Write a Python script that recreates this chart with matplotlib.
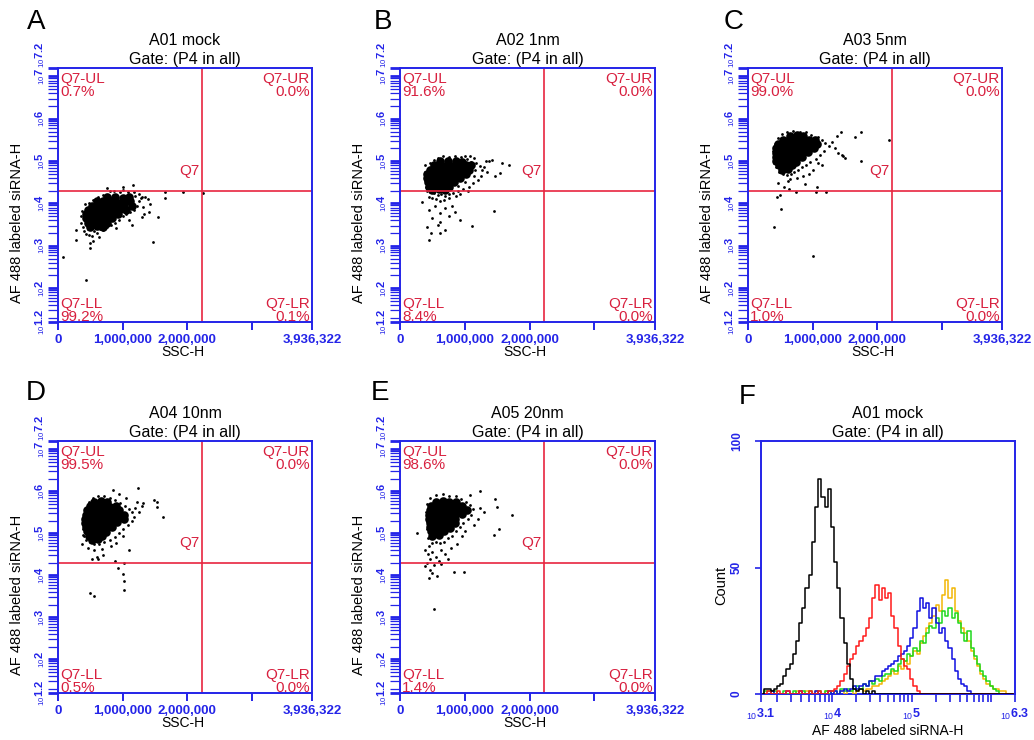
import numpy as np
import matplotlib
matplotlib.use('Agg')
import matplotlib.pyplot as plt
from matplotlib.ticker import LogLocator, NullFormatter

plt.rcParams['font.family'] = ['Liberation Sans', 'DejaVu Sans']
plt.rcParams['mathtext.fontset'] = 'custom'
plt.rcParams['mathtext.rm'] = 'Liberation Sans'
plt.rcParams['mathtext.it'] = 'Liberation Sans:italic'
plt.rcParams['mathtext.bf'] = 'Liberation Sans:bold'

# samples and quadrant statistics (Q7 gate)
panel_letters = ['A', 'B', 'C', 'D', 'E']
sample_names = ['A01 mock', 'A02 1nm', 'A03 5nm', 'A04 10nm', 'A05 20nm']
pct_ul = [0.7, 91.6, 99.0, 99.5, 98.6]
pct_ur = [0.0, 0.0, 0.0, 0.0, 0.0]
pct_ll = [99.2, 8.4, 1.0, 0.5, 1.4]
pct_lr = [0.1, 0.0, 0.0, 0.0, 0.0]

gate_ssc = 2230000
gate_af488 = 20000
ssc_max = 3936322

# events as (SSC-H / 1000, log10 AF 488); "dense" = bulk of the population
a01_dense = [
    (760, 4.15), (880, 4.16), (1000, 4.14), (1100, 4.15),
    (600, 4.05), (700, 4.06), (800, 4.05), (900, 4.04), (1000, 4.05), (1120, 4.06),
    (520, 3.95), (620, 3.96), (720, 3.95), (820, 3.94), (920, 3.95), (1030, 3.96), (1140, 3.95),
    (460, 3.85), (560, 3.86), (660, 3.85), (760, 3.84), (860, 3.85), (960, 3.86), (1060, 3.85),
    (430, 3.75), (530, 3.76), (630, 3.75), (730, 3.74), (830, 3.75), (930, 3.76),
    (440, 3.65), (540, 3.66), (640, 3.65), (740, 3.64), (840, 3.65),
    (460, 3.55), (560, 3.56), (660, 3.55), (760, 3.54),
    (500, 3.45), (600, 3.46), (690, 3.45),
]
a01_sparse = [
    (350, 3.70), (360, 3.55), (380, 3.45), (370, 3.82), (400, 3.35), (430, 3.28),
    (480, 3.25), (520, 3.22), (560, 3.35), (600, 3.30), (650, 3.40), (700, 3.38),
    (760, 3.45), (820, 3.50), (880, 3.55), (940, 3.62), (1000, 3.70), (1060, 3.75),
    (1120, 3.80), (1180, 3.85), (1230, 3.95), (1260, 4.05), (1290, 4.12), (1250, 4.22),
    (1180, 4.28), (1080, 4.27), (960, 4.26), (870, 4.29), (800, 4.30), (700, 4.20),
    (620, 4.15), (540, 4.08), (480, 4.02), (420, 3.98), (1320, 3.92), (1350, 4.15),
    (1400, 4.10), (1420, 3.98), (1300, 3.68), (1100, 3.60), (900, 3.42), (640, 3.20),
    (540, 3.12), (460, 3.40), (1150, 3.50), (1200, 4.18), (1000, 4.31),
    (80, 2.74), (440, 2.19), (280, 3.37), (280, 3.14), (500, 3.06), (500, 2.95),
    (1470, 3.10), (1555, 3.69), (1660, 4.28), (1940, 4.27), (2250, 4.24), (1170, 4.44),
    (1000, 4.38), (755, 4.36), (1340, 3.76), (1405, 3.80), (1660, 4.12), (1300, 4.15),
]

a02_dense = [
    (620, 5.00), (740, 5.01), (860, 5.00), (960, 4.99),
    (520, 4.90), (620, 4.91), (720, 4.90), (820, 4.89), (920, 4.90), (1020, 4.91), (1100, 4.90),
    (460, 4.80), (560, 4.81), (660, 4.80), (760, 4.79), (860, 4.80), (960, 4.81), (1060, 4.80),
    (420, 4.70), (520, 4.71), (620, 4.70), (720, 4.69), (820, 4.70), (920, 4.71), (1020, 4.70),
    (420, 4.60), (520, 4.61), (620, 4.60), (720, 4.59), (820, 4.60), (920, 4.61),
    (430, 4.50), (530, 4.51), (630, 4.50), (730, 4.49), (830, 4.50),
    (450, 4.40), (550, 4.41), (650, 4.40), (750, 4.39),
    (500, 4.32), (600, 4.33), (700, 4.32),
]
a02_sparse = [
    (380, 4.75), (390, 4.55), (400, 4.40), (420, 4.30), (380, 4.90), (460, 4.95),
    (520, 5.02), (580, 5.08), (660, 5.12), (760, 5.10), (850, 5.12), (940, 5.10),
    (1040, 5.05), (1100, 4.98), (1180, 4.95), (1230, 4.88), (1260, 4.78), (1250, 4.65),
    (1200, 4.55), (1120, 4.48), (1060, 4.40), (980, 4.35), (900, 4.30), (820, 4.25),
    (760, 4.22), (700, 4.18), (640, 4.22), (580, 4.20), (520, 4.25), (470, 4.28),
    (1000, 5.12), (1080, 5.12), (1150, 5.08), (1300, 4.85), (1320, 5.00), (560, 4.10),
    (620, 4.05), (500, 4.12), (440, 4.15), (680, 4.08), (760, 4.12), (860, 4.18),
    (920, 4.22), (1050, 4.30), (1160, 4.80), (1140, 4.65), (1000, 4.50), (900, 4.42),
    (340, 4.04), (455, 3.85), (620, 3.77), (610, 3.30), (440, 3.14), (415, 3.45),
    (700, 3.37), (1110, 3.47), (1445, 3.83), (930, 3.61), (620, 3.57), (540, 3.95),
    (700, 3.90), (800, 3.95), (500, 3.65), (760, 3.70), (850, 3.80), (580, 3.50),
    (480, 3.30), (1380, 5.00), (1575, 4.95), (1540, 4.73), (1680, 4.91), (1420, 5.02),
    (1350, 4.75), (1460, 4.65),
]

a03_dense = [
    (650, 5.60), (760, 5.61), (860, 5.60),
    (540, 5.50), (640, 5.51), (740, 5.50), (840, 5.49), (940, 5.50), (1040, 5.51),
    (470, 5.40), (570, 5.41), (670, 5.40), (770, 5.39), (870, 5.40), (970, 5.41), (1070, 5.40),
    (430, 5.30), (530, 5.31), (630, 5.30), (730, 5.29), (830, 5.30), (930, 5.31), (1030, 5.30),
    (430, 5.20), (530, 5.21), (630, 5.20), (730, 5.19), (830, 5.20), (930, 5.21),
    (430, 5.10), (530, 5.11), (630, 5.10), (730, 5.09), (830, 5.10),
    (440, 5.00), (540, 5.01), (640, 5.00), (740, 4.99),
    (480, 4.90), (580, 4.91), (680, 4.90),
    (520, 4.80), (620, 4.81),
]
a03_sparse = [
    (390, 5.25), (400, 5.05), (410, 4.95), (420, 5.40), (460, 5.55), (520, 5.65),
    (600, 5.70), (700, 5.72), (800, 5.70), (900, 5.68), (980, 5.62), (1080, 5.58),
    (1150, 5.50), (1200, 5.42), (1250, 5.35), (1180, 5.25), (1120, 5.15), (1050, 5.05),
    (960, 4.98), (900, 4.90), (840, 4.85), (780, 4.80), (720, 4.75), (660, 4.70),
    (600, 4.68), (540, 4.70), (480, 4.75), (440, 4.85), (1000, 4.80), (940, 4.70),
    (860, 4.65), (760, 4.60), (650, 4.58), (1300, 5.45), (1350, 5.30), (1400, 5.20),
    (1450, 5.15), (1380, 5.60), (1080, 4.95), (1150, 4.90),
    (1436, 5.70), (1653, 5.58), (1746, 5.68), (2185, 5.50), (1756, 5.00), (1468, 5.12),
    (1500, 5.08), (454, 4.16), (500, 4.20), (635, 4.33), (739, 4.27), (1060, 4.27),
    (1215, 4.27), (516, 3.86), (403, 3.44), (1012, 2.76), (460, 4.49), (620, 4.52),
    (1074, 4.40), (880, 4.45), (560, 4.40),
]

a04_dense = [
    (560, 5.75), (660, 5.76), (760, 5.75),
    (500, 5.65), (600, 5.66), (700, 5.65), (800, 5.64), (900, 5.65),
    (450, 5.55), (550, 5.56), (650, 5.55), (750, 5.54), (850, 5.55), (950, 5.56),
    (430, 5.45), (530, 5.46), (630, 5.45), (730, 5.44), (830, 5.45), (930, 5.46), (1030, 5.45),
    (420, 5.35), (520, 5.36), (620, 5.35), (720, 5.34), (820, 5.35), (920, 5.36), (1020, 5.35),
    (420, 5.25), (520, 5.26), (620, 5.25), (720, 5.24), (820, 5.25), (920, 5.26),
    (430, 5.15), (530, 5.16), (630, 5.15), (730, 5.14), (830, 5.15),
    (450, 5.05), (550, 5.06), (650, 5.05), (750, 5.04),
    (480, 4.95), (580, 4.96), (680, 4.95),
    (520, 4.85), (620, 4.86),
]
a04_sparse = [
    (380, 5.30), (390, 5.10), (400, 5.45), (410, 4.95), (430, 5.60), (480, 5.75),
    (540, 5.85), (620, 5.88), (720, 5.90), (800, 5.85), (880, 5.80), (960, 5.72),
    (1040, 5.65), (1100, 5.58), (1150, 5.50), (1180, 5.40), (1140, 5.30), (1080, 5.20),
    (1000, 5.10), (940, 5.00), (880, 4.92), (800, 4.85), (720, 4.80), (640, 4.75),
    (560, 4.75), (500, 4.80), (440, 4.85), (460, 4.65), (560, 4.60), (680, 4.62),
    (820, 4.70), (900, 4.78), (1000, 4.95), (1200, 5.60), (1250, 5.52), (1300, 5.65),
    (1220, 5.75), (1050, 5.85), (950, 5.95),
    (1244, 6.07), (847, 6.04), (1493, 5.80), (1530, 5.75), (1632, 5.40), (1528, 5.64),
    (1322, 5.72), (367, 4.74), (390, 4.97), (522, 4.38), (600, 4.45), (700, 4.48),
    (935, 4.18), (1013, 4.03), (1020, 3.86), (1029, 3.66), (496, 3.59), (563, 3.52),
    (1029, 4.30), (880, 4.35), (620, 4.40), (1100, 4.60),
]

a05_dense = [
    (560, 5.75), (660, 5.76), (760, 5.75), (860, 5.74),
    (480, 5.65), (580, 5.66), (680, 5.65), (780, 5.64), (880, 5.65), (960, 5.66),
    (460, 5.55), (560, 5.56), (660, 5.55), (760, 5.54), (860, 5.55), (960, 5.56), (1040, 5.55),
    (450, 5.45), (550, 5.46), (650, 5.45), (750, 5.44), (850, 5.45), (950, 5.46),
    (450, 5.35), (550, 5.36), (650, 5.35), (750, 5.34), (850, 5.35),
    (460, 5.25), (560, 5.26), (660, 5.25), (760, 5.24), (850, 5.25),
    (470, 5.15), (570, 5.16), (670, 5.15), (770, 5.14),
    (480, 5.05), (580, 5.06), (680, 5.05),
    (500, 4.95), (600, 4.96),
]
a05_sparse = [
    (400, 5.50), (410, 5.30), (420, 5.10), (430, 4.90), (420, 5.70), (470, 5.85),
    (560, 5.92), (660, 5.95), (760, 5.90), (860, 5.88), (940, 5.82), (1020, 5.75),
    (1080, 5.68), (1120, 5.58), (1100, 5.45), (1050, 5.35), (980, 5.25), (920, 5.15),
    (860, 5.05), (800, 4.95), (740, 4.88), (680, 4.80), (620, 4.78), (560, 4.80),
    (500, 4.78), (450, 4.70), (380, 4.60), (430, 4.50), (500, 4.55), (560, 4.45),
    (640, 4.60), (700, 4.52), (780, 4.65), (880, 4.75), (960, 4.95), (1150, 5.20),
    (1200, 5.35), (1240, 5.60), (1300, 5.50), (1000, 5.05), (600, 4.35), (470, 4.40),
    (740, 4.40),
    (387, 4.22), (465, 4.14), (454, 3.95), (568, 3.99), (826, 4.07), (981, 4.07),
    (532, 3.20), (258, 5.00), (1731, 5.45), (1498, 5.64), (1473, 5.82), (1524, 5.10),
    (1446, 4.97), (1240, 6.00), (1085, 5.92), (420, 4.30), (520, 4.25), (640, 4.28),
    (500, 4.05),
]

# AF 488 histogram overlay, counts per channel (log10 channel centres 3.12 .. 6.28)
hist_bin_log = np.round(3.12 + 0.04 * np.arange(80), 2)
hist_mock = [
    0, 2, 2, 1, 2, 3, 4, 7, 10, 12,
    16, 21, 28, 34, 42, 47, 60, 74, 85, 78,
    74, 81, 66, 52, 42, 30, 20, 12, 6, 2,
    1, 2, 0, 1, 0, 1, 0, 0, 0, 0,
    0, 0, 0, 0, 0, 0, 0, 0, 0, 0,
    0, 0, 0, 0, 0, 0, 0, 0, 0, 0,
    0, 0, 0, 0, 0, 0, 0, 0, 0, 0,
    0, 0, 0, 0, 0, 0, 0, 0, 0, 0,
]
hist_1nm = [
    0, 0, 1, 0, 0, 1, 0, 0, 1, 0,
    0, 0, 1, 0, 0, 1, 0, 0, 1, 0,
    0, 1, 1, 2, 3, 5, 8, 11, 14, 16,
    19, 21, 23, 26, 30, 38, 43, 37, 42, 38,
    40, 31, 26, 19, 14, 11, 10, 6, 3, 1,
    0, 0, 0, 0, 0, 0, 0, 0, 0, 0,
    0, 0, 0, 0, 0, 0, 0, 0, 0, 0,
    0, 0, 0, 0, 0, 0, 0, 0, 0, 0,
]
hist_5nm = [
    0, 0, 0, 1, 0, 0, 0, 0, 1, 0,
    0, 0, 1, 0, 0, 0, 0, 1, 0, 0,
    0, 1, 0, 1, 0, 1, 2, 1, 2, 3,
    2, 3, 4, 3, 5, 5, 7, 7, 9, 10,
    11, 12, 13, 15, 16, 17, 19, 22, 26, 33,
    38, 34, 36, 30, 34, 28, 24, 26, 21, 18,
    14, 9, 6, 4, 3, 1, 0, 0, 0, 0,
    0, 0, 0, 0, 0, 0, 0, 0, 0, 0,
]
hist_10nm = [
    0, 0, 0, 0, 0, 0, 0, 0, 0, 0,
    0, 1, 0, 0, 1, 0, 0, 1, 0, 0,
    1, 0, 1, 0, 0, 1, 0, 1, 1, 0,
    1, 2, 1, 2, 2, 3, 3, 4, 5, 6,
    7, 9, 8, 11, 10, 13, 12, 15, 17, 16,
    20, 23, 26, 28, 31, 35, 33, 39, 45, 38,
    42, 33, 29, 26, 24, 21, 17, 14, 11, 8,
    6, 4, 3, 2, 2, 1, 1, 0, 0, 0,
]
hist_20nm = [
    0, 1, 1, 0, 1, 0, 0, 1, 0, 0,
    1, 0, 0, 1, 0, 1, 0, 0, 1, 0,
    1, 0, 1, 1, 0, 2, 1, 2, 1, 2,
    3, 2, 4, 3, 5, 4, 6, 5, 7, 8,
    8, 10, 9, 12, 14, 13, 16, 15, 18, 17,
    21, 20, 24, 27, 26, 30, 28, 33, 31, 34,
    30, 32, 28, 24, 21, 25, 18, 15, 12, 9,
    7, 5, 3, 2, 1, 0, 0, 0, 0, 0,
]

BLUE = '#2424e8'
GATE_RED = '#e8253f'
TEXT_RED = '#d8203f'

W, H = 1034, 740
fig = plt.figure(figsize=(W / 100, H / 100), dpi=100)


def px_axes(left, top, right, bottom):
    return fig.add_axes([left / W, 1 - bottom / H, (right - left) / W, (bottom - top) / H])


def blue_frame(ax):
    for sp in ax.spines.values():
        sp.set_color(BLUE)
        sp.set_linewidth(1.4)
    ax.tick_params(which='both', direction='out', color=BLUE, labelcolor=BLUE)


scatter_boxes = [(58, 68, 312, 322), (400, 68, 655, 322), (748, 68, 1002, 322),
                 (58, 441, 312, 693), (400, 441, 655, 693)]
letter_xy = [(36, 22), (383, 22), (734, 22), (36, 393), (380, 393)]
events = [(a01_dense, a01_sparse), (a02_dense, a02_sparse), (a03_dense, a03_sparse),
          (a04_dense, a04_sparse), (a05_dense, a05_sparse)]

y_exps = [1.2, 2, 3, 4, 5, 6, 7, 7.2]
y_labels = ['$_{10}$' + f'{e:g}' for e in y_exps]
x_ticks = [0, 1000000, 2000000, 3000000, ssc_max]
x_labels = ['0', '1,000,000', '2,000,000', '', '3,936,322']

for i, box in enumerate(scatter_boxes):
    ax = px_axes(*box)
    ax.set_yscale('log')
    dense = np.array(events[i][0], float)
    sparse = np.array(events[i][1], float)
    ax.plot(dense[:, 0] * 1000, 10 ** dense[:, 1], 'o', ms=6.2, mfc='black', mec='none')
    ax.plot(sparse[:, 0] * 1000, 10 ** sparse[:, 1], 'o', ms=2.0, mfc='black', mec='none')
    ax.axvline(gate_ssc, color=GATE_RED, lw=1.2)
    ax.axhline(gate_af488, color=GATE_RED, lw=1.2)
    ax.set_xlim(0, ssc_max)
    ax.set_ylim(10 ** 1.2, 10 ** 7.2)

    blue_frame(ax)
    ax.set_xticks(x_ticks, x_labels, fontweight='bold', fontsize=9.5)
    ax.set_yticks([10 ** e for e in y_exps], y_labels, rotation=90, va='center',
                  fontsize=8, fontweight='bold')
    # the top label sits above the frame
    ax.get_yticklabels()[-1].set_va('bottom')
    ax.yaxis.set_minor_locator(LogLocator(10, subs=np.arange(2, 10), numticks=30))
    ax.yaxis.set_minor_formatter(NullFormatter())
    ax.tick_params(axis='x', length=6, width=1.4, pad=2.5)
    ax.tick_params(axis='y', which='major', length=7, width=2.0, pad=1)
    ax.tick_params(axis='y', which='minor', length=7, width=0.9)

    # quadrant statistics
    qkw = dict(transform=ax.transAxes, color=TEXT_RED, fontsize=11, linespacing=0.95)
    ax.text(0.008, 0.985, f'Q7-UL\n{pct_ul[i]:.1f}%', ha='left', va='top', **qkw)
    ax.text(0.992, 0.985, f'Q7-UR\n{pct_ur[i]:.1f}%', ha='right', va='top', **qkw)
    ax.text(0.008, -0.008, f'Q7-LL\n{pct_ll[i]:.1f}%', ha='left', va='bottom', **qkw)
    ax.text(0.992, -0.008, f'Q7-LR\n{pct_lr[i]:.1f}%', ha='right', va='bottom', **qkw)
    ax.annotate('Q7', xy=(gate_ssc, gate_af488), xytext=(-2, 9), textcoords='offset points',
                ha='right', va='bottom', color=TEXT_RED, fontsize=11)

    ax.set_title(f'{sample_names[i]}\nGate: (P4 in all)', fontsize=11.5, pad=3, linespacing=1.35)
    ax.set_ylabel('AF 488 labeled siRNA-H', fontsize=10.5)
    ax.yaxis.set_label_coords(-0.135, 0.39)
    ax.set_xlabel('SSC-H', fontsize=10)
    ax.xaxis.set_label_coords(0.49, -0.09)

    lx, ly = letter_xy[i]
    fig.text(lx / W, 1 - ly / H, panel_letters[i], fontsize=20, ha='center', va='center')

# histogram overlay
axf = px_axes(761, 441, 1015, 694)
axf.set_xscale('log')
hist_series = [(hist_10nm, '#f2b705'), (hist_20nm, '#1ed81e'), (hist_5nm, '#1010e0'),
               (hist_1nm, '#ff1a1a'), (hist_mock, 'black')]
for counts, color in hist_series:
    axf.plot(10 ** hist_bin_log, counts, drawstyle='steps-mid', color=color, lw=1.1, zorder=3)
axf.set_xlim(10 ** 3.1, 10 ** 6.3)
axf.set_ylim(0, 100)
blue_frame(axf)
axf.set_xticks([10 ** 3.1, 1e4, 1e5, 1e6, 10 ** 6.3],
               ['$_{10}$3.1', '$_{10}$4', '$_{10}$5', '', '$_{10}$6.3'],
               fontweight='bold', fontsize=9)
axf.xaxis.set_minor_locator(LogLocator(10, subs=np.arange(2, 10), numticks=30))
axf.xaxis.set_minor_formatter(NullFormatter())
axf.set_yticks([0, 50, 100], ['0', '50', '100'], rotation=90, va='center',
               fontweight='bold', fontsize=8.5)
axf.tick_params(axis='x', which='both', length=6, width=1.2, pad=3)
axf.tick_params(axis='y', length=4, width=1.2, pad=9)
axf.set_title('A01 mock\nGate: (P4 in all)', fontsize=11.5, pad=3, linespacing=1.35)
axf.set_ylabel('Count', fontsize=10.5)
axf.yaxis.set_label_coords(-0.13, 0.43)
axf.set_xlabel('AF 488 labeled siRNA-H', fontsize=10)
axf.xaxis.set_label_coords(0.5, -0.12)
fig.text(747 / W, 1 - 397 / H, 'F', fontsize=20, ha='center', va='center')

fig.savefig('out.png', dpi=100, facecolor='white')
